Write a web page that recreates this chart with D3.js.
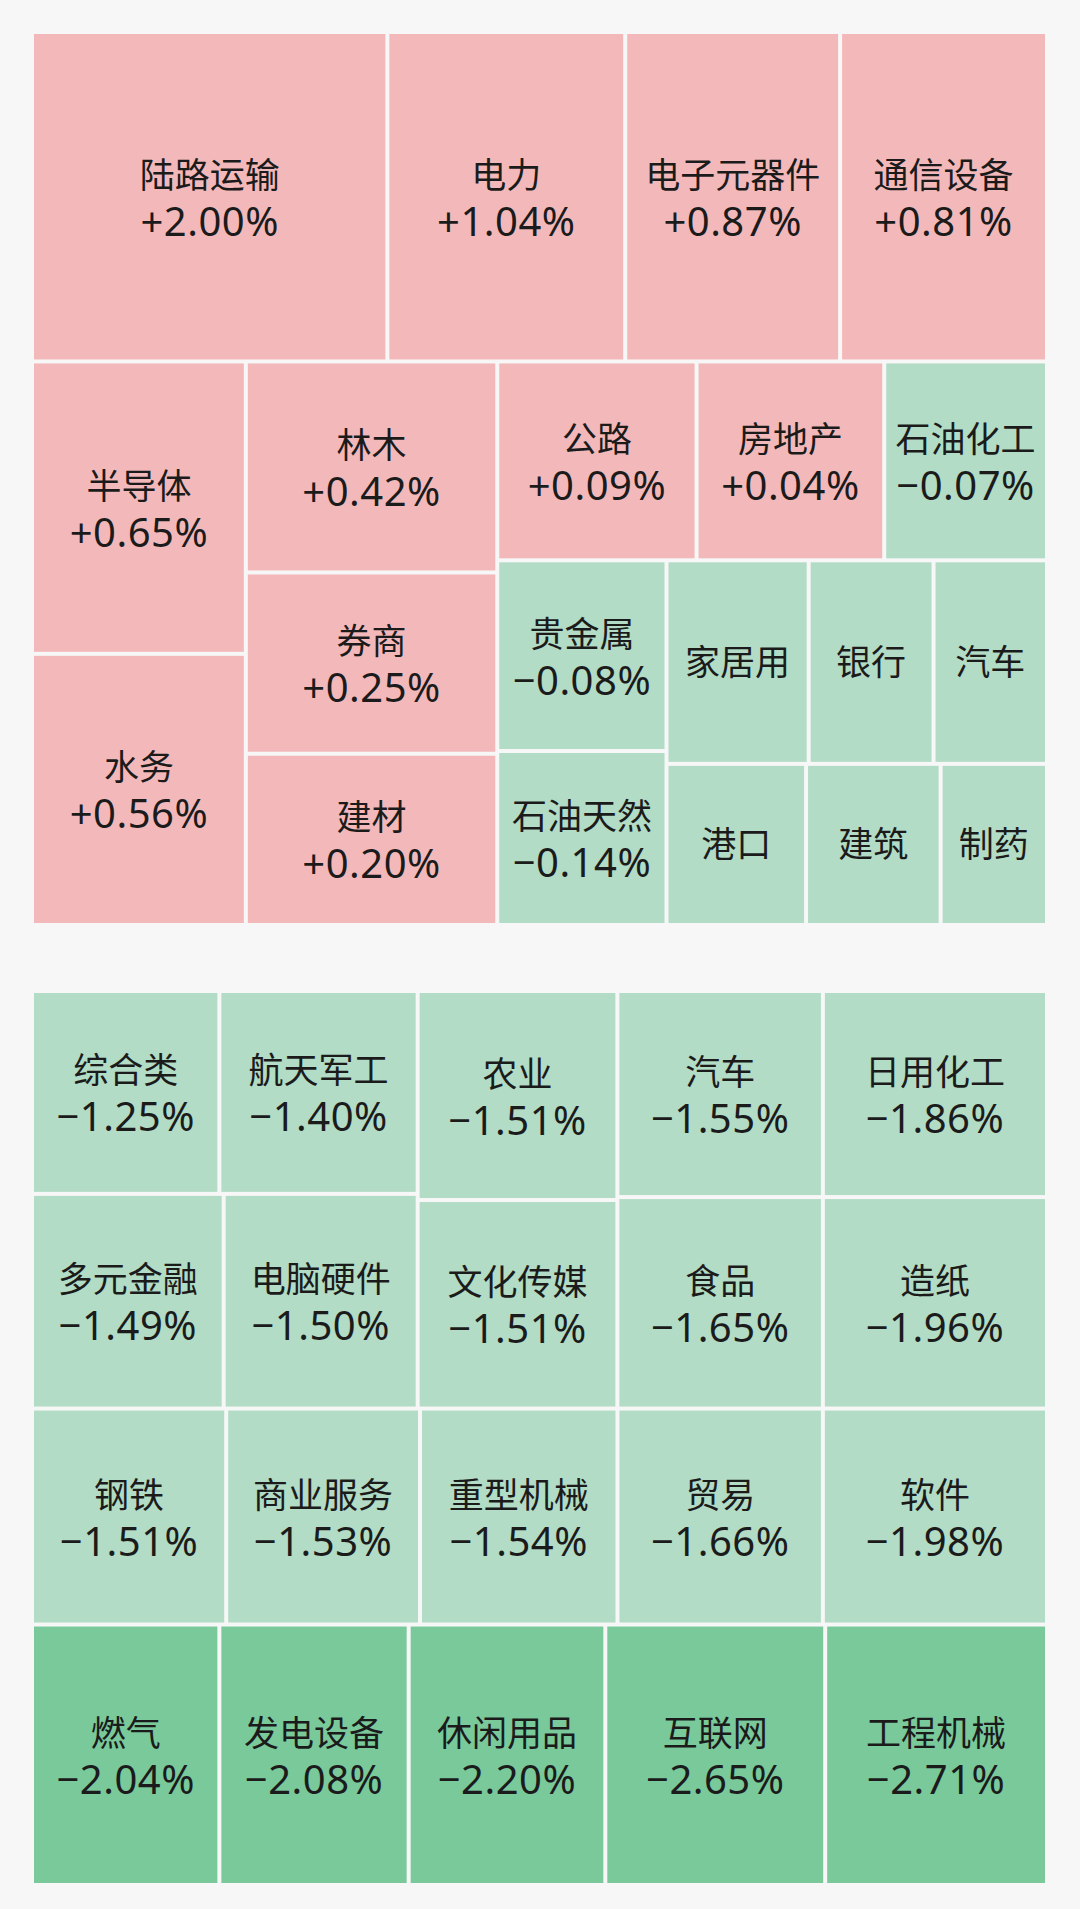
<!DOCTYPE html>
<html>
<head>
<meta charset="utf-8">
<script src="https://cdn.jsdelivr.net/npm/d3@7"></script>
<style>
  html, body { margin: 0; padding: 0; background: #f7f7f7; }
  svg { display: block; }
</style>
</head>
<body>
<svg id="chart" width="1080" height="1909"></svg>
<script>
// ---------- DATA ----------
// Upper treemap: sector names, daily change (%), block weight (relative area)
const topNames   = ["陆路运输","电力","电子元器件","通信设备","半导体","水务","林木","券商","建材",
                    "公路","房地产","石油化工","贵金属","石油天然","家居用","银行","汽车","港口","建筑","制药"];
const topChanges = [2.00, 1.04, 0.87, 0.81, 0.65, 0.56, 0.42, 0.25, 0.20,
                    0.09, 0.04, -0.07, -0.08, -0.14, null, null, null, null, null, null];
const topWeights = [116.1, 77.7, 70.2, 67.6, 62.0, 57.5, 52.6, 45.2, 42.7,
                    39.3, 37.0, 32.1, 32.0, 29.2, 28.7, 25.2, 22.9, 22.3, 21.5, 17.0];
// unlabeled blocks in the upper map are shown green (falling)
const topSign    = [1,1,1,1,1,1,1,1,1,1,1,-1,-1,-1,-1,-1,-1,-1,-1,-1];
// nesting of the blocks ("row" = side by side, "col" = stacked)
const topNesting = ["col", [
  ["row", [0, 1, 2, 3]],
  ["row", [
    ["col", [4, 5]],
    ["col", [6, 7, 8]],
    ["col", [
      ["row", [9, 10, 11]],
      ["row", [
        ["col", [12, 13]],
        ["col", [["row", [14, 15, 16]], ["row", [17, 18, 19]]]]
      ]]
    ]]
  ]]
]];

// Lower treemap
const botNames   = ["综合类","航天军工","多元金融","电脑硬件","农业","文化传媒","汽车","日用化工","食品","造纸",
                    "钢铁","商业服务","重型机械","贸易","软件","燃气","发电设备","休闲用品","互联网","工程机械"];
const botChanges = [-1.25, -1.40, -1.49, -1.50, -1.51, -1.51, -1.55, -1.86, -1.65, -1.96,
                    -1.51, -1.53, -1.54, -1.66, -1.98, -2.04, -2.08, -2.20, -2.65, -2.71];
const botWeights = [37.7, 39.9, 40.8, 41.3, 41.4, 41.3, 42.0, 45.8, 43.1, 47.0,
                    41.6, 41.5, 42.3, 44.0, 48.0, 48.4, 48.9, 50.8, 56.8, 57.3];
const botNesting = ["col", [
  ["row", [
    ["col", [["row", [0, 1]], ["row", [2, 3]]]],
    ["col", [4, 5]],
    ["col", [["row", [6, 7]], ["row", [8, 9]]]]
  ]],
  ["row", [10, 11, 12, 13, 14]],
  ["row", [15, 16, 17, 18, 19]]
]];

// ---------- STYLE ----------
const color = d3.scaleThreshold()
  .domain([-2, 0])
  .range(["#79c99b", "#b2dcc5", "#f3b9ba"]);
const fmt = d3.format("+.2f");

const svg = d3.select("#chart");

function build(nest, names, changes, weights, signs) {
  if (typeof nest === "number") {
    return { name: names[nest], change: changes[nest], weight: weights[nest],
             sign: signs ? signs[nest] : Math.sign(changes[nest]) };
  }
  return { dir: nest[0], children: nest[1].map(n => build(n, names, changes, weights, signs)) };
}

function tile(node, x0, y0, x1, y1) {
  (node.data.dir === "row" ? d3.treemapDice : d3.treemapSlice)(node, x0, y0, x1, y1);
}

function drawMap(nest, names, changes, weights, signs, x, y, w, h) {
  const root = d3.hierarchy(build(nest, names, changes, weights, signs))
    .sum(d => d.children ? 0 : d.weight);
  d3.treemap().tile(tile).size([w, h]).paddingInner(4)(root);

  const g = svg.append("g").attr("transform", `translate(${x},${y})`);
  const cell = g.selectAll("g.cell").data(root.leaves()).join("g").attr("class", "cell");

  cell.append("rect")
    .attr("x", d => d.x0).attr("y", d => d.y0)
    .attr("width", d => d.x1 - d.x0).attr("height", d => d.y1 - d.y0)
    .attr("fill", d => d.data.change == null
      ? color(d.data.sign < 0 ? -0.01 : 0.01)
      : color(d.data.change));

  const cx = d => (d.x0 + d.x1) / 2;
  const cy = d => (d.y0 + d.y1) / 2;

  const label = cell.append("text")
    .attr("text-anchor", "middle")
    .attr("fill", "#1b1b1b");

  label.append("tspan")
    .attr("x", cx)
    .attr("y", d => d.data.change == null ? cy(d) + 13 : cy(d) - 9)
    .attr("font-family", "'Noto Sans CJK SC', 'Noto Sans', sans-serif")
    .attr("font-size", 35)
    .text(d => d.data.name);

  label.filter(d => d.data.change != null).append("tspan")
    .attr("x", cx)
    .attr("y", d => cy(d) + 39)
    .attr("font-family", "'Noto Sans', 'Open Sans', sans-serif")
    .attr("font-size", 40)
    .attr("letter-spacing", "0.5px")
    .text(d => fmt(d.data.change) + "%");
}

drawMap(topNesting, topNames, topChanges, topWeights, topSign, 34, 34, 1011, 889);
drawMap(botNesting, botNames, botChanges, botWeights, null, 34, 993, 1011, 890);
</script>
</body>
</html>
